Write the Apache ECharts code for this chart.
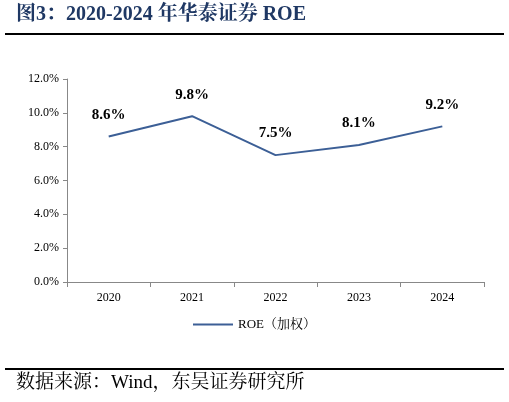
<!DOCTYPE html>
<html>
<head>
<meta charset="utf-8">
<script src="https://cdn.jsdelivr.net/npm/echarts@6/dist/echarts.min.js"></script>
<style>
  html, body { margin: 0; padding: 0; background: #fff; }
  #main { width: 509px; height: 402px; }
</style>
</head>
<body>
<div id="main"></div>
<script>
var years = ["2020", "2021", "2022", "2023", "2024"];
var roe = [8.6, 9.8, 7.5, 8.1, 9.2];
var serif = "Times New Roman, Liberation Serif, Noto Serif CJK SC, serif";

var chart = echarts.init(document.getElementById("main"));
chart.setOption({
    backgroundColor: "#fff",
    animation: false,
    graphic: [
        { type: "text", left: 16, top: 5, style: { text: "图3：2020-2024 年华泰证券 ROE", font: "bold 20px " + serif, fill: "#1f3864" } },
        { type: "rect", shape: { x: 5, y: 33, width: 499, height: 2 }, style: { fill: "#000" } },
        { type: "rect", shape: { x: 5, y: 368, width: 499, height: 2 }, style: { fill: "#000" } },
        { type: "text", left: 16, top: 374, style: { text: "数据来源：Wind，东吴证券研究所", font: "19px " + serif, fill: "#000" } }
    ],
    grid: { left: 67, right: 25, top: 79, bottom: 120 },
    legend: {
        bottom: 66,
        left: "center",
        itemWidth: 40,
        itemHeight: 2,
        itemGap: 4,
        icon: "rect",
        textStyle: { fontFamily: serif, fontSize: 13, color: "#000" },
        data: ["ROE（加权）"]
    },
    xAxis: {
        type: "category",
        data: years,
        axisLine: { lineStyle: { color: "#888" } },
        axisTick: { show: true, length: 5, lineStyle: { color: "#888" } },
        axisLabel: { fontFamily: serif, fontSize: 12, color: "#000", margin: 10 }
    },
    yAxis: {
        type: "value",
        min: 0,
        max: 12,
        interval: 2,
        axisLine: { show: true, lineStyle: { color: "#888" } },
        axisTick: { show: true, length: 4, lineStyle: { color: "#888" } },
        splitLine: { show: false },
        axisLabel: { fontFamily: serif, fontSize: 12, color: "#000", margin: 8, formatter: function (v) { return v.toFixed(1) + "%"; } }
    },
    series: [{
        name: "ROE（加权）",
        type: "line",
        data: roe,
        symbol: "circle",
        symbolSize: 0.1,
        lineStyle: { color: "#3c5f96", width: 2 },
        itemStyle: { color: "#3c5f96" },
        label: {
            show: true,
            position: "top",
            distance: 14,
            fontFamily: serif,
            fontSize: 15,
            fontWeight: "bold",
            color: "#000",
            formatter: function (p) { return p.value.toFixed(1) + "%"; }
        }
    }]
});
</script>
</body>
</html>
